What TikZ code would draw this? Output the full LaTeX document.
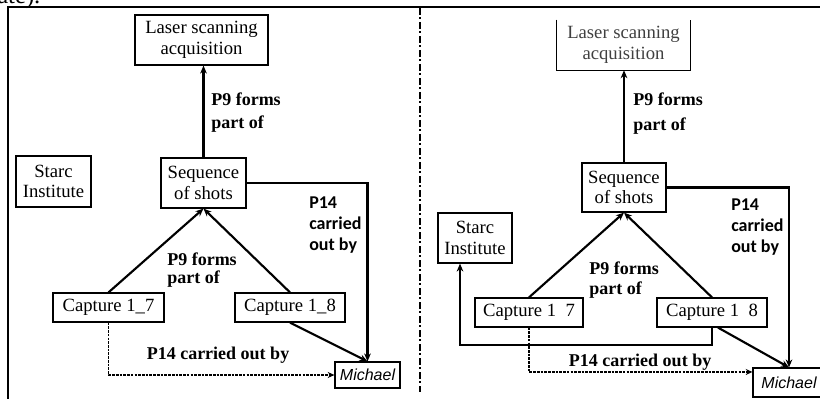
\documentclass[tikz,border=0pt]{standalone}
\usepackage{fontspec}
\setmainfont{Liberation Serif}
\newfontfamily\calfont{Carlito}
\newfontfamily\arfont{Liberation Sans}
\usetikzlibrary{arrows.meta}
\begin{document}
\begin{tikzpicture}[x=0.75pt,y=-0.75pt,
 box/.style={draw, line width=0.9pt, inner sep=0pt, align=center, font=\fontsize{14}{15.5}\selectfont},
 lab/.style={inner sep=0pt, align=left, font=\fontsize{13.5}{17}\selectfont\bfseries},
 clab/.style={inner sep=0pt, align=left, font=\fontsize{13.5}{15.75}\selectfont\calfont\bfseries},
 mich/.style={draw, line width=0.9pt, inner sep=0pt, font=\fontsize{12}{14}\selectfont\arfont\itshape},
 conn/.style={line width=1.6pt, -{Stealth[length=6pt,width=5pt]}},
 dconn/.style={line width=1pt, dash pattern=on 2pt off 0.8pt, -{Stealth[length=5pt,width=4.5pt]}}]
\useasboundingbox (0,0) rectangle (820,399);
\clip (0,0) rectangle (820,399);
% fragment of the text above
\node[anchor=base west, inner sep=0pt, font=\fontsize{18.5}{20}\selectfont] (frag) at (-3,4) {ate).};
% frame and divider
\draw[line width=1.2pt] (8,399) -- (8,7) -- (820,7);
\draw[line width=1.8pt, dash pattern=on 5pt off 2pt on 1.5pt off 2pt] (420,8) -- (420,392);

% ---------- left panel ----------
\node[box, minimum width=133*0.75pt, minimum height=50*0.75pt] (laserL) at (201.5,40) {Laser scanning\\acquisition};
\node[box, minimum width=75*0.75pt, minimum height=51*0.75pt] (starcL) at (53.5,181.5) {Starc\\Institute};
\node[box, minimum width=85*0.75pt, minimum height=50*0.75pt] (seqL) at (203.5,183) {Sequence\\of shots};
\node[box, minimum width=111*0.75pt, minimum height=29*0.75pt] (cap7L) at (108.5,307.5) {Capture 1\_7};
\node[box, minimum width=110*0.75pt, minimum height=29*0.75pt] (cap8L) at (290,307.5) {Capture 1\_8};
\node[mich, minimum width=65*0.75pt, minimum height=26*0.75pt] (michL) at (367.5,375) {Michael};

\draw[conn] (seqL.north) -- (seqL.north |- laserL.south);
\draw[conn] (seqL.east) -| (michL.north);
\draw[conn] (cap7L.north) -- (seqL.south);
\draw[conn] (cap8L.north) -- (seqL.south);
\draw[conn] (cap8L.south) -- (michL.north);
\draw[dconn] (cap7L.south) |- (michL.west);

\node[lab, anchor=north west] (l1) at (211,93) {P9 forms\\part of};
\node[clab, anchor=north west] (l2) at (309,197) {P14\\carried\\out by};
\node[lab, anchor=north west, font=\fontsize{13.5}{13.5}\selectfont\bfseries] (l3) at (167,253) {P9 forms\\part of};
\node[lab] (l4) at (218,355) {P14 carried out by};

% ---------- right panel ----------
\node[inner sep=0pt, align=center, font=\fontsize{14}{15.5}\selectfont, text=black!75, minimum width=133*0.75pt, minimum height=50*0.75pt] (laserR) at (623.5,45) {Laser scanning\\acquisition};
\draw[line width=0.9pt] (laserR.north west) -- (laserR.south west) -- (laserR.south east) -- (laserR.north east);
\node[box, minimum width=84*0.75pt, minimum height=49*0.75pt] (seqR) at (624,187.5) {Sequence\\of shots};
\node[box, minimum width=74*0.75pt, minimum height=50*0.75pt] (starcR) at (475,238) {Starc\\Institute};
\node[box, minimum width=108*0.75pt, minimum height=29*0.75pt] (cap7R) at (529,312.5) {Capture 1\hspace{0.5em}7};
\node[box, minimum width=110*0.75pt, minimum height=29*0.75pt] (cap8R) at (712,312.5) {Capture 1\hspace{0.5em}8};
\node[mich, minimum width=72*0.75pt, minimum height=29*0.75pt] (michR) at (789,382.5) {\raisebox{-4pt}{Michael}};

\draw[conn] (seqR.north) -- (seqR.north |- laserR.south);
\draw[conn] (seqR.east) -| (michR.north);
\draw[conn] (cap7R.north) -- (seqR.south);
\draw[conn] (cap8R.north) -- (seqR.south);
\draw[conn] (cap8R.south) -- ++(0,17) -| ([xshift=-11.25pt]starcR.south);
\draw[conn] ([xshift=4.5pt]cap8R.south) -- (michR.north);
\draw[dconn] (cap7R.south) |- ([yshift=7.9pt]michR.west);

\node[lab, anchor=north west, font=\fontsize{13.5}{18.5}\selectfont\bfseries] (r1) at (633,93) {P9 forms\\part of};
\node[clab, anchor=north west] (r2) at (731,199) {P14\\carried\\out by};
\node[lab, anchor=north west, font=\fontsize{13.5}{15}\selectfont\bfseries] (r3) at (589,262) {P9 forms\\part of};
\node[lab] (r4) at (640,362) {P14 carried out by};
\end{tikzpicture}
\end{document}
